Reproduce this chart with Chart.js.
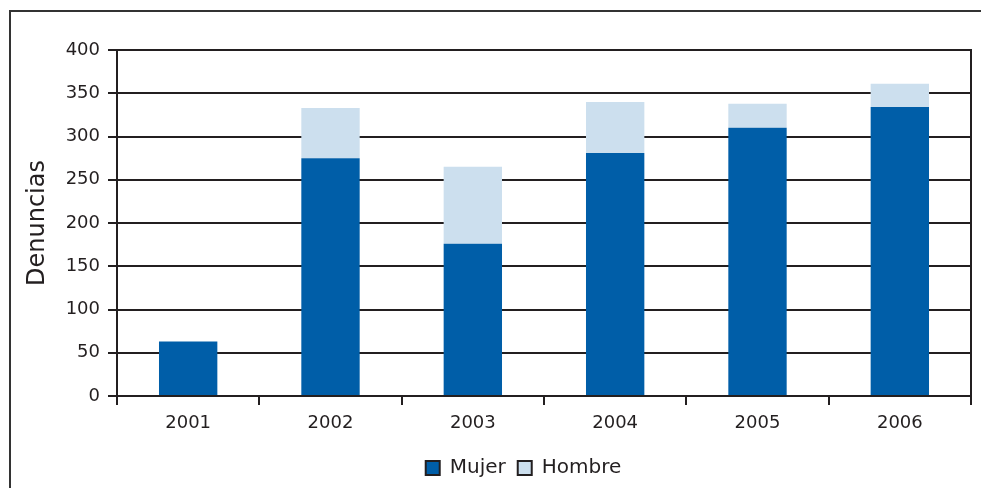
<!DOCTYPE html>
<html>
<head>
<meta charset="utf-8">
<script src="https://cdn.jsdelivr.net/npm/chart.js@4/dist/chart.umd.min.js"></script>
<style>
html,body{margin:0;padding:0;background:#fff;}
canvas{display:block;}
</style>
</head>
<body>
<canvas id="c" width="981" height="488"></canvas>
<script>
const years = ['2001','2002','2003','2004','2005','2006'];
const mujer = [63, 275, 176, 281, 310, 334];
const hombre = [0, 58, 89, 59, 28, 27];
const yTicks = [0, 50, 100, 150, 200, 250, 300, 350, 400];
const seriesNames = ['Mujer', 'Hombre'];
const axisTitle = 'Denuncias';

const INK = '#231f20';
const FONT = "'DejaVu Sans', sans-serif";

const framePlugin = {
  id: 'frame',
  afterLayout(chart) {
    if (chart.legend) { chart.legend.left += 33; chart.legend.right += 33; }
  },
  beforeDraw(chart) {
    const ctx = chart.ctx;
    ctx.save();
    ctx.fillStyle = '#fff';
    ctx.fillRect(0, 0, chart.width, chart.height);
    ctx.strokeStyle = '#333';
    ctx.lineWidth = 2;
    ctx.beginPath();
    ctx.moveTo(10, chart.height);
    ctx.lineTo(10, 11);
    ctx.lineTo(chart.width, 11);
    ctx.stroke();
    ctx.restore();
  },
  afterDraw(chart) {
    const a = chart.chartArea;
    const ctx = chart.ctx;
    ctx.save();
    ctx.strokeStyle = INK;
    ctx.lineWidth = 2;
    ctx.beginPath();
    ctx.moveTo(a.right, a.top - 1);
    ctx.lineTo(a.right, a.bottom + 9);
    ctx.stroke();
    ctx.restore();
  }
};

new Chart(document.getElementById('c'), {
  type: 'bar',
  data: {
    labels: years,
    datasets: [
      { label: seriesNames[0], data: mujer, backgroundColor: '#005EA8', borderWidth: 0 },
      { label: seriesNames[1], data: hombre, backgroundColor: '#CCDFEE', borderWidth: 0 }
    ]
  },
  options: {
    responsive: false,
    animation: false,
    devicePixelRatio: 1,
    layout: { padding: { left: 10, right: 10, top: 50, bottom: 0 } },
    datasets: { bar: { categoryPercentage: 1, barPercentage: 0.41 } },
    plugins: {
      tooltip: { enabled: false },
      legend: {
        position: 'bottom',
        labels: {
          font: { family: FONT, size: 20 },
          color: INK,
          boxWidth: 14,
          boxHeight: 14,
          padding: 12,
          generateLabels(chart) {
            const items = Chart.defaults.plugins.legend.labels.generateLabels(chart);
            items.forEach(it => { it.strokeStyle = INK; it.lineWidth = 2; });
            return items;
          }
        }
      }
    },
    scales: {
      x: {
        stacked: true,
        offset: true,
        grid: { display: true, drawOnChartArea: false, offset: true, color: INK, lineWidth: 2, tickLength: 9, tickWidth: 2 },
        border: { display: true, color: INK, width: 2 },
        ticks: { font: { family: FONT, size: 18 }, color: INK, padding: 8, maxRotation: 0 },
        afterFit(s) { s.height = 50; }
      },
      y: {
        stacked: true,
        min: 0,
        max: 400,
        afterBuildTicks(s) { s.ticks = yTicks.map(v => ({ value: v })); },
        grid: { color: INK, lineWidth: 2, tickLength: 9, tickWidth: 2 },
        border: { display: true, color: INK, width: 2 },
        ticks: { font: { family: FONT, size: 18 }, color: INK, padding: 8 },
        title: { display: true, text: axisTitle, font: { family: FONT, size: 24 }, color: INK, padding: { top: 13, bottom: 0 } },
        afterFit(s) { s.width = 107; }
      }
    }
  },
  plugins: [framePlugin]
});
</script>
</body>
</html>
